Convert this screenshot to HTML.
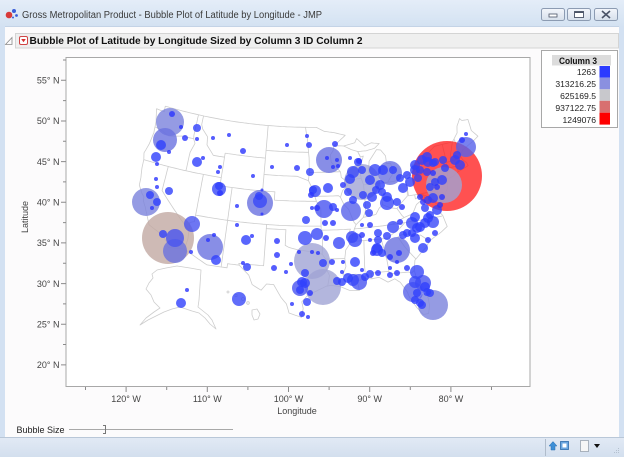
<!DOCTYPE html>
<html><head><meta charset="utf-8">
<style>
html,body{margin:0;padding:0;width:624px;height:457px;overflow:hidden;background:#fff;}
svg{display:block;font-family:"Liberation Sans",sans-serif;}
</style></head><body>
<svg id="root" width="624" height="457" viewBox="0 0 624 457" xmlns="http://www.w3.org/2000/svg">
<defs>
<linearGradient id="tb" x1="0" y1="0" x2="0" y2="1"><stop offset="0" stop-color="#e4edf8"/><stop offset="1" stop-color="#d4e2f2"/></linearGradient>
<linearGradient id="bt" x1="0" y1="0" x2="0" y2="1"><stop offset="0" stop-color="#f3f6fb"/><stop offset="1" stop-color="#d6dfeb"/></linearGradient>
<linearGradient id="sb" x1="0" y1="0" x2="0" y2="1"><stop offset="0" stop-color="#e2eaf5"/><stop offset="1" stop-color="#d3dfee"/></linearGradient>
</defs>
<rect x="0" y="0" width="624" height="457" fill="#d3e1f2"/>
<rect x="0" y="0" width="624" height="26" fill="url(#tb)"/>
<rect x="5" y="26" width="614" height="411" fill="#fcfbfc"/>
<line x1="5" y1="26.5" x2="619" y2="26.5" stroke="#c4d3e6"/>
<circle cx="9" cy="15" r="3.3" fill="#d83a3a"/>
<circle cx="14" cy="11" r="2" fill="#3a5ed8"/>
<circle cx="16.5" cy="15.5" r="1.4" fill="#3a5ed8"/>
<circle cx="13" cy="17.5" r="1" fill="#3a5ed8"/>
<text x="22" y="18" font-size="10" fill="#3a3a3a" textLength="300" lengthAdjust="spacingAndGlyphs">Gross Metropolitan Product - Bubble Plot of Latitude by Longitude - JMP</text>
<rect x="541.5" y="8.5" width="23" height="12" rx="2" fill="url(#bt)" stroke="#8c9bb2"/>
<rect x="549" y="14" width="8" height="3" fill="#fff" stroke="#4a5366" stroke-width="0.8"/>
<rect x="567.5" y="8.5" width="23" height="12" rx="2" fill="url(#bt)" stroke="#8c9bb2"/>
<rect x="574.5" y="11.5" width="9" height="6" fill="#fff" stroke="#4a5366" stroke-width="0.9"/>
<line x1="574.5" y1="12.3" x2="583.5" y2="12.3" stroke="#4a5366" stroke-width="1.4"/>
<rect x="594.5" y="8.5" width="23" height="12" rx="2" fill="url(#bt)" stroke="#8c9bb2"/>
<path d="M602,11 L610,18 M610,11 L602,18" stroke="#4a5366" stroke-width="1.6"/>
<path d="M12,37.5 L12,44.5 L5.5,44.5 Z" fill="none" stroke="#8a8a8a" stroke-width="0.8"/>
<rect x="15.5" y="33.5" width="603" height="14.5" fill="#efefef" stroke="#d4d4d4"/>
<rect x="19.5" y="36.5" width="8" height="8" rx="1.5" fill="#fff" stroke="#d04545"/>
<path d="M21.2,39 L25.8,39 L23.5,42.3 Z" fill="#d83030"/>
<text x="29.5" y="44" font-size="10.5" font-weight="bold" fill="#111" textLength="333" lengthAdjust="spacingAndGlyphs">Bubble Plot of Latitude by Longitude Sized by Column 3 ID Column 2</text>
<rect x="66" y="57.5" width="464" height="329" fill="#fff" stroke="#a8a8a8"/>
<g stroke="#8a8a8a" stroke-width="1">
<path d="M61,80.3H66M61,121H66M61,161.6H66M61,202.3H66M61,242.9H66M61,283.6H66M61,324.2H66M61,364.9H66"/>
<path d="M63,60H66M63,100.6H66M63,141.3H66M63,181.9H66M63,222.6H66M63,263.2H66M63,303.9H66M63,344.5H66"/>
<path d="M126.1,387V392M207.3,387V392M288.5,387V392M369.7,387V392M450.9,387V392"/>
<path d="M85.5,387V390M166.7,387V390M247.9,387V390M329.1,387V390M410.3,387V390M491.5,387V390"/>
</g>
<g font-size="9" fill="#444" text-anchor="end">
<text x="59.5" y="83.5">55° N</text>
<text x="59.5" y="124.2">50° N</text>
<text x="59.5" y="164.8">45° N</text>
<text x="59.5" y="205.5">40° N</text>
<text x="59.5" y="246.1">35° N</text>
<text x="59.5" y="286.8">30° N</text>
<text x="59.5" y="327.4">25° N</text>
<text x="59.5" y="368.1">20° N</text>
</g>
<g font-size="9" fill="#444" text-anchor="middle">
<text x="126.1" y="402">120° W</text>
<text x="207.3" y="402">110° W</text>
<text x="288.5" y="402">100° W</text>
<text x="369.7" y="402">90° W</text>
<text x="450.9" y="402">80° W</text>
<text x="297" y="414">Longitude</text>
</g>
<text transform="translate(28,217) rotate(-90)" font-size="9" fill="#444" text-anchor="middle">Latitude</text>
<g id="map" fill="none" stroke="#cdcdcd" stroke-width="0.8" stroke-linejoin="round">
<path d="M157,270 L166,268 L177,266 L190,268 L201,270 L200,285 L199,300 L198,307 L203,311 L208,315 L212,320 L216,329 L210,324 L205,318 L199,313 L192,311 L186,309 L180,307 L172,309 L164,312 L156,316 L148,320 L140,325 L146,318 L154,312 L160,308 L154,302 L151,295 L146,289 L149,283 L153,278 L152,274 Z"/>
<circle cx="228" cy="292" r="1"/>
<circle cx="236" cy="295.5" r="1.2"/>
<circle cx="243" cy="299" r="1.5"/>
<circle cx="248" cy="303" r="1.3"/>
<path d="M252,310 L257,309 L260,314 L258,319 L254,320 L252,315 Z"/>
</g>
<g fill-opacity="0.8">
<circle cx="447" cy="176" r="35" fill="#ff1a1a" fill-opacity="0.76"/>
<circle cx="168" cy="238" r="26" fill="#c2a9a3"/>
<g fill="#a0a4d4">
<circle cx="362" cy="182" r="18"/><circle cx="312" cy="261" r="18"/><circle cx="323" cy="287" r="18"/><circle cx="444" cy="185" r="18"/>
</g>
<g fill="#7a82dc">
<circle cx="433" cy="305" r="15"/><circle cx="170" cy="122" r="14"/><circle cx="146" cy="202" r="14"/>
</g>
<g fill="#6a72e0">
<circle cx="260" cy="203" r="13"/><circle cx="329" cy="160" r="13"/><circle cx="210" cy="247" r="13"/><circle cx="397" cy="250" r="13"/>
<circle cx="165" cy="140" r="12"/><circle cx="175" cy="251" r="12"/><circle cx="390" cy="173" r="12"/>
</g>
<g fill="#5862ea">
<circle cx="466" cy="147" r="10"/><circle cx="351" cy="211" r="10"/><circle cx="413" cy="292" r="10"/>
</g>
<g fill="#4854f0">
<circle cx="324" cy="209" r="9"/><circle cx="175" cy="238" r="9"/>
<circle cx="192" cy="224" r="8"/><circle cx="423" cy="283" r="8"/><circle cx="359" cy="282" r="8"/><circle cx="300" cy="288" r="8"/>
</g>
<g fill="#3a48f8">
<circle cx="219" cy="189" r="7"/><circle cx="260" cy="201" r="7"/><circle cx="239" cy="299" r="7"/><circle cx="305" cy="238" r="7"/><circle cx="355" cy="240" r="7"/><circle cx="417" cy="272" r="7"/><circle cx="387" cy="203" r="7"/>
<circle cx="315" cy="191" r="6"/><circle cx="317" cy="234" r="6"/><circle cx="353" cy="172" r="6"/><circle cx="375" cy="170" r="6"/><circle cx="352" cy="237" r="6"/><circle cx="393" cy="227" r="6"/><circle cx="412" cy="223" r="6"/><circle cx="433" cy="222" r="6"/><circle cx="339" cy="243" r="6"/><circle cx="377" cy="250" r="6"/><circle cx="353" cy="280" r="6"/><circle cx="415" cy="282" r="6"/>
</g>
<g fill="#3040fc">
<circle cx="161" cy="145" r="5"/><circle cx="156" cy="157" r="5"/><circle cx="197" cy="162" r="5"/><circle cx="216" cy="260" r="5"/><circle cx="246" cy="240" r="5"/><circle cx="328" cy="188" r="5"/><circle cx="383" cy="170" r="5"/><circle cx="370" cy="180" r="5"/><circle cx="380" cy="185" r="5"/><circle cx="350" cy="179" r="5"/><circle cx="372" cy="197" r="5"/><circle cx="387" cy="197" r="5"/><circle cx="403" cy="188" r="5"/><circle cx="410" cy="182" r="5"/><circle cx="415" cy="165" r="5"/><circle cx="422" cy="160" r="5"/><circle cx="415" cy="170" r="5"/><circle cx="415" cy="217" r="5"/><circle cx="420" cy="227" r="5"/><circle cx="425" cy="223" r="5"/><circle cx="428" cy="218" r="5"/><circle cx="415" cy="238" r="5"/><circle cx="423" cy="248" r="5"/><circle cx="417" cy="228" r="5"/><circle cx="377" cy="248" r="5"/><circle cx="355" cy="262" r="5"/><circle cx="302" cy="282" r="5"/><circle cx="348" cy="278" r="5"/><circle cx="425" cy="287" r="5"/><circle cx="181" cy="303" r="5"/><circle cx="427" cy="157" r="5"/><circle cx="428" cy="162" r="5"/><circle cx="455" cy="160" r="5"/><circle cx="460" cy="165" r="5"/><circle cx="442" cy="180" r="5"/><circle cx="433" cy="198" r="5"/><circle cx="437" cy="210" r="5"/><circle cx="305" cy="283" r="5"/>
<circle cx="197" cy="128" r="4"/><circle cx="169" cy="191" r="4"/><circle cx="150" cy="195" r="4"/><circle cx="157" cy="202" r="4"/><circle cx="259" cy="196" r="4"/><circle cx="310" cy="172" r="4"/><circle cx="306" cy="220" r="4"/><circle cx="163" cy="234" r="4"/><circle cx="247" cy="267" r="4"/><circle cx="313" cy="190" r="4"/><circle cx="362" cy="170" r="4"/><circle cx="393" cy="170" r="4"/><circle cx="358" cy="162" r="4"/><circle cx="348" cy="192" r="4"/><circle cx="353" cy="200" r="4"/><circle cx="363" cy="195" r="4"/><circle cx="382" cy="192" r="4"/><circle cx="367" cy="205" r="4"/><circle cx="376" cy="190" r="4"/><circle cx="397" cy="202" r="4"/><circle cx="407" cy="175" r="4"/><circle cx="400" cy="178" r="4"/><circle cx="435" cy="162" r="4"/><circle cx="420" cy="170" r="4"/><circle cx="427" cy="172" r="4"/><circle cx="418" cy="178" r="4"/><circle cx="369" cy="213" r="4"/><circle cx="333" cy="207" r="4"/><circle cx="378" cy="233" r="4"/><circle cx="412" cy="233" r="4"/><circle cx="403" cy="235" r="4"/><circle cx="378" cy="240" r="4"/><circle cx="387" cy="236" r="4"/><circle cx="407" cy="233" r="4"/><circle cx="382" cy="253" r="4"/><circle cx="323" cy="263" r="4"/><circle cx="305" cy="273" r="4"/><circle cx="300" cy="290" r="4"/><circle cx="307" cy="302" r="4"/><circle cx="337" cy="281" r="4"/><circle cx="342" cy="282" r="4"/><circle cx="365" cy="277" r="4"/><circle cx="370" cy="274" r="4"/><circle cx="427" cy="292" r="4"/><circle cx="417" cy="293" r="4"/><circle cx="415" cy="300" r="4"/><circle cx="420" cy="303" r="4"/><circle cx="422" cy="305" r="4"/><circle cx="430" cy="293" r="4"/><circle cx="433" cy="163" r="4"/><circle cx="443" cy="160" r="4"/><circle cx="457" cy="155" r="4"/><circle cx="445" cy="168" r="4"/><circle cx="435" cy="182" r="4"/><circle cx="430" cy="187" r="4"/><circle cx="425" cy="208" r="4"/><circle cx="428" cy="200" r="4"/><circle cx="430" cy="215" r="4"/><circle cx="219" cy="186" r="4"/>
</g>
<g fill="#2a34fe">
<circle cx="172" cy="114" r="3"/><circle cx="185" cy="138" r="3"/><circle cx="243" cy="151" r="3"/><circle cx="220" cy="193" r="3"/><circle cx="309" cy="145" r="3"/><circle cx="297" cy="168" r="3"/><circle cx="311" cy="195" r="3"/><circle cx="317" cy="208" r="3"/><circle cx="335" cy="144" r="3"/><circle cx="359" cy="161" r="3"/><circle cx="343" cy="185" r="3"/><circle cx="402" cy="207" r="3"/><circle cx="370" cy="225" r="3"/><circle cx="333" cy="223" r="3"/><circle cx="325" cy="223" r="3"/><circle cx="362" cy="235" r="3"/><circle cx="400" cy="222" r="3"/><circle cx="428" cy="240" r="3"/><circle cx="435" cy="233" r="3"/><circle cx="390" cy="257" r="3"/><circle cx="399" cy="253" r="3"/><circle cx="373" cy="253" r="3"/><circle cx="332" cy="262" r="3"/><circle cx="310" cy="293" r="3"/><circle cx="302" cy="314" r="3"/><circle cx="277" cy="241" r="3"/><circle cx="277" cy="255" r="3"/><circle cx="274" cy="268" r="3"/><circle cx="326" cy="238" r="3"/><circle cx="378" cy="273" r="3"/><circle cx="390" cy="275" r="3"/><circle cx="397" cy="273" r="3"/><circle cx="407" cy="268" r="3"/><circle cx="462" cy="140" r="3"/><circle cx="433" cy="173" r="3"/><circle cx="437" cy="187" r="3"/><circle cx="420" cy="197" r="3"/><circle cx="423" cy="202" r="3"/><circle cx="442" cy="197" r="3"/><circle cx="440" cy="205" r="3"/>
<circle cx="181" cy="127" r="2"/><circle cx="197" cy="139" r="2"/><circle cx="169" cy="152" r="2"/><circle cx="157" cy="164" r="2"/><circle cx="213" cy="138" r="2"/><circle cx="229" cy="135" r="2"/><circle cx="203" cy="158" r="2"/><circle cx="220" cy="167" r="2"/><circle cx="218" cy="172" r="2"/><circle cx="156" cy="179" r="2"/><circle cx="157" cy="187" r="2"/><circle cx="152" cy="208" r="2"/><circle cx="253" cy="176" r="2"/><circle cx="237" cy="206" r="2"/><circle cx="287" cy="145" r="2"/><circle cx="307" cy="136" r="2"/><circle cx="272" cy="167" r="2"/><circle cx="312" cy="208" r="2"/><circle cx="208" cy="240" r="2"/><circle cx="214" cy="235" r="2"/><circle cx="191" cy="252" r="2"/><circle cx="237" cy="225" r="2"/><circle cx="252" cy="236" r="2"/><circle cx="243" cy="263" r="2"/><circle cx="286" cy="272" r="2"/><circle cx="291" cy="264" r="2"/><circle cx="299" cy="252" r="2"/><circle cx="312" cy="252" r="2"/><circle cx="318" cy="253" r="2"/><circle cx="292" cy="304" r="2"/><circle cx="308" cy="317" r="2"/><circle cx="187" cy="290" r="2"/><circle cx="327" cy="158" r="2"/><circle cx="337" cy="160" r="2"/><circle cx="333" cy="167" r="2"/><circle cx="338" cy="166" r="2"/><circle cx="350" cy="158" r="2"/><circle cx="337" cy="210" r="2"/><circle cx="362" cy="225" r="2"/><circle cx="370" cy="240" r="2"/><circle cx="343" cy="262" r="2"/><circle cx="342" cy="272" r="2"/><circle cx="362" cy="270" r="2"/><circle cx="390" cy="268" r="2"/><circle cx="397" cy="262" r="2"/><circle cx="466" cy="134" r="2"/>
<circle cx="262" cy="190" r="1.5"/><circle cx="262" cy="214" r="1.5"/>
</g>
</g>
<rect x="541.5" y="50.5" width="76" height="77" fill="#fff" stroke="#a8a8a8"/>
<rect x="552" y="55" width="59" height="10.5" fill="#dcdcdc"/>
<text x="559" y="64" font-size="9.5" font-weight="bold" fill="#111" textLength="38" lengthAdjust="spacingAndGlyphs">Column 3</text>
<rect x="599.5" y="66" width="10.5" height="11.6" fill="#2b3bff"/>
<rect x="599.5" y="77.6" width="10.5" height="11.7" fill="#8a90e0"/>
<rect x="599.5" y="89.3" width="10.5" height="11.5" fill="#c8c8cc"/>
<rect x="599.5" y="100.8" width="10.5" height="11.9" fill="#d87070"/>
<rect x="599.5" y="112.7" width="10.5" height="11.9" fill="#ff0000"/>
<g font-size="8.6" fill="#222" text-anchor="end">
<text x="596" y="74.8">1263</text>
<text x="596" y="86.8">313216.25</text>
<text x="596" y="98.8">625169.5</text>
<text x="596" y="110.8">937122.75</text>
<text x="596" y="122.8">1249076</text>
</g>
<text x="16.5" y="433" font-size="9" fill="#222">Bubble Size</text>
<line x1="69" y1="429.5" x2="233" y2="429.5" stroke="#a8a8a8" stroke-width="1"/>
<path d="M103,425.5 H105.5 V433.5 H103" fill="none" stroke="#777" stroke-width="1"/>
<rect x="0" y="437" width="624" height="20" fill="url(#sb)"/>
<line x1="0" y1="437.5" x2="624" y2="437.5" stroke="#b9c7d8"/>
<line x1="545.5" y1="439" x2="545.5" y2="456" stroke="#b0bccb"/>
<path d="M549,446 L553,441.5 L557,446 L555,446 L555,450 L551,450 L551,446 Z" fill="#3e8fd6" stroke="#2a6fb2" stroke-width="0.5"/>
<rect x="560.5" y="441.5" width="8" height="8" fill="#6aa6e0" stroke="#2c6aaa" stroke-width="0.8"/>
<rect x="562.5" y="443.5" width="4" height="4" fill="#fff"/>
<rect x="580.5" y="440.5" width="8" height="11" fill="#f6f6f6" stroke="#9aa4b0" stroke-width="0.8"/>
<path d="M594,444 L600,444 L597,448 Z" fill="#111"/>
<g fill="#b4c0ce"><rect x="614" y="452" width="1" height="1"/><rect x="616" y="450" width="1" height="1"/><rect x="616" y="452" width="1" height="1"/><rect x="618" y="448" width="1" height="1"/><rect x="618" y="450" width="1" height="1"/><rect x="618" y="452" width="1" height="1"/></g>
</svg>
<script>
(function(){
var D=Math.PI/180,p1=29.5*D,p2=45.5*D,n=(Math.sin(p1)+Math.sin(p2))/2,C=Math.cos(p1)*Math.cos(p1)+2*n*Math.sin(p1),r0=Math.sqrt(C-2*n*Math.sin(37.5*D))/n;
function P(lo,la){var r=Math.sqrt(C-2*n*Math.sin(la*D))/n,t=n*(lo+96)*D;return [312+470*r*Math.sin(t),222-470*(r0-r*Math.cos(t))];}
var L=[
[-124.7,48.4,-124.1,46.9,-124.0,46.2,-123.9,45.5,-124.1,44.0,-124.5,42.8,-124.2,42.0,-124.1,41.0,-123.8,39.8,-123.7,38.9,-122.9,38.0,-122.5,37.7,-122.4,37.2,-121.9,36.6,-121.3,35.7,-120.6,34.6,-119.2,34.1,-118.4,33.8,-117.3,33.0,-117.1,32.5,-114.7,32.7,-111.1,31.3,-108.2,31.3,-108.2,31.8,-106.5,31.8,-105.0,30.7,-104.4,29.6,-103.1,29.0,-102.4,29.8,-101.4,29.8,-100.3,28.3,-99.5,27.5,-99.1,26.4,-97.4,25.9,-97.2,27.0,-97.4,27.8,-96.6,28.6,-95.0,29.3,-94.0,29.7,-93.3,29.8,-92.0,29.6,-90.8,29.1,-89.4,29.0,-89.6,30.2,-88.4,30.4,-87.5,30.3,-86.5,30.4,-85.3,29.7,-84.3,30.0,-83.6,29.5,-82.8,28.2,-82.6,27.5,-81.8,26.1,-81.1,25.2,-80.4,25.2,-80.1,26.2,-80.1,27.0,-80.6,28.5,-81.3,29.9,-81.4,30.7,-81.1,31.9,-80.0,32.7,-79.2,33.2,-78.5,33.9,-77.8,34.2,-76.5,34.7,-75.5,35.2,-75.8,36.6,-76.1,37.0,-75.9,37.6,-75.1,38.3,-75.1,38.8,-74.9,38.9,-74.1,39.7,-74.0,40.5,-73.9,40.8,-72.9,40.9,-71.9,41.3,-71.0,41.5,-70.0,41.7,-70.1,42.1,-70.6,42.6,-70.8,43.1,-70.2,43.7,-69.0,44.1,-68.0,44.4,-67.0,44.8,-67.8,45.7,-67.8,47.1,-68.9,47.2,-69.2,47.5,-70.0,46.7,-70.3,45.9,-71.5,45.0,-74.7,45.0,-76.3,44.2,-76.9,43.4,-79.1,43.3,-79.0,42.9,-78.9,42.6,-80.5,42.1,-82.4,41.7,-83.5,41.7,-86.8,41.7,-87.5,41.7,-87.8,42.5,-87.9,43.4,-87.6,44.3,-87.1,45.2,-87.6,45.1,-88.0,45.8,-86.5,45.8,-85.0,46.0,-84.1,46.5,-85.5,46.7,-86.7,46.4,-88.0,47.4,-88.4,46.9,-90.4,46.6,-92.1,46.7,-90.0,47.9,-92.0,48.3,-93.8,48.5,-95.2,49.0,-123.3,49.0,-123.2,48.3,-124.7,48.4],
[-86.8,41.7,-84.8,41.7,-83.5,41.7,-83.1,42.1,-82.5,42.6,-82.4,43.0,-82.6,43.9,-83.3,44.0,-83.3,44.9,-84.0,45.7,-84.7,45.8,-85.4,45.2,-86.2,44.5,-86.5,43.2,-86.2,42.5,-86.8,41.7],
[-124.0,46.2,-123.0,46.1,-121.2,45.6,-119.0,46.0,-116.9,46.0],
[-117.0,49.0,-117.0,46.4,-116.9,46.0],
[-116.9,46.0,-116.5,45.5,-117.0,44.3,-117.0,42.0],
[-124.2,42.0,-111.05,42.0],
[-111.05,44.5,-111.05,41.0,-109.05,41.0],
[-109.05,41.0,-102.05,41.0,-102.05,40.0,-95.3,40.0],
[-120.0,42.0,-120.0,39.0,-114.6,35.0],
[-114.6,35.0,-114.7,36.0,-114.05,36.2,-114.05,37.0],
[-114.6,35.0,-114.5,34.0,-114.7,32.7],
[-114.05,42.0,-114.05,37.0],
[-114.05,37.0,-94.6,37.0],
[-109.05,41.0,-109.05,31.3],
[-103.0,37.0,-103.0,32.0,-106.6,32.0,-106.5,31.8],
[-103.0,36.5,-100.0,36.5,-100.0,34.6,-99.5,34.4,-98.0,34.1,-96.0,33.9,-94.5,33.6,-94.0,33.0,-94.0,31.9,-93.5,31.0,-93.8,29.7],
[-116.05,49.0,-116.05,47.9,-115.7,47.4,-114.6,46.6,-114.4,45.6,-113.0,44.5,-111.05,44.5,-111.05,45.0],
[-111.05,45.0,-104.05,45.0],
[-104.05,49.0,-104.05,41.0],
[-104.05,45.94,-96.6,45.94],
[-104.05,43.0,-98.5,43.0,-96.6,42.5],
[-97.2,49.0,-96.8,47.5,-96.6,45.9,-96.5,45.3,-96.45,43.5,-91.2,43.5],
[-96.45,43.5,-96.6,42.5,-95.9,41.5,-95.3,40.0,-94.6,39.1,-94.6,36.5],
[-95.8,40.6,-91.7,40.6,-91.4,40.4],
[-92.1,46.7,-92.3,46.1,-92.8,45.6,-92.7,44.7,-91.2,43.5],
[-91.2,43.5,-91.1,42.8,-90.6,42.5,-90.2,41.8,-91.0,41.2,-91.4,40.4,-90.9,39.5,-90.2,38.9,-89.5,37.3,-89.2,37.0,-89.5,36.5,-89.7,36.0,-90.1,35.0,-91.0,34.0,-91.2,33.0,-91.1,32.0,-91.6,31.0,-89.7,31.0,-89.6,30.2],
[-94.6,36.5,-90.1,36.5,-90.4,36.0,-89.7,36.0],
[-89.5,36.5,-81.7,36.6,-75.9,36.55],
[-90.6,42.5,-87.8,42.5],
[-87.6,45.1,-88.0,45.8,-89.1,46.1,-90.4,46.6],
[-87.5,41.7,-87.5,39.0,-87.6,38.5,-88.0,37.8],
[-89.2,37.0,-88.0,37.8,-87.0,37.9,-86.0,38.0,-85.4,38.7,-84.8,39.1,-83.6,38.6,-82.6,38.4,-81.8,39.0,-80.7,39.7,-80.5,40.6],
[-82.6,38.4,-82.0,37.5,-81.7,37.2,-83.7,36.6],
[-84.8,41.7,-84.8,39.1],
[-80.5,42.0,-80.5,39.7],
[-80.5,39.7,-75.8,39.7],
[-79.8,42.5,-79.8,42.0,-75.4,42.0,-74.7,41.4,-75.1,40.8,-75.5,39.8,-75.8,39.7],
[-74.7,41.4,-74.0,41.0],
[-75.8,39.7,-75.8,38.5,-75.1,38.5],
[-78.3,39.6,-78.0,39.2,-79.5,38.5,-80.3,37.5,-81.7,37.2],
[-79.5,39.7,-79.5,39.2,-78.3,39.6,-77.5,39.2,-77.0,38.9,-76.3,38.0],
[-83.1,35.0,-82.4,35.2,-81.0,35.1,-80.8,34.8,-79.7,34.8,-78.5,33.9],
[-81.7,36.6,-82.6,36.0,-84.3,35.2,-84.3,35.0],
[-84.3,35.0,-90.3,35.0],
[-83.1,35.0,-82.2,33.6,-81.4,32.6,-80.9,32.0],
[-85.6,35.0,-85.1,32.4,-85.0,31.0],
[-87.6,31.0,-85.0,31.0,-84.9,30.7,-82.2,30.6,-81.9,30.4,-81.4,30.7],
[-88.2,35.0,-88.4,32.0,-88.4,30.4],
[-87.6,31.0,-87.5,30.3],
[-94.0,33.0,-91.2,33.0],
[-94.5,33.6,-94.4,35.4,-94.6,36.5],
[-73.3,45.0,-73.3,42.7,-73.5,42.0,-73.7,41.1],
[-71.5,45.0,-72.5,43.3,-72.5,42.7],
[-73.3,42.75,-71.0,42.85,-70.8,42.9],
[-71.1,45.3,-70.7,43.1],
[-73.5,42.05,-71.4,42.0,-71.2,41.5],
[-71.8,42.0,-71.8,41.3]
];
var NS="http://www.w3.org/2000/svg",g=document.getElementById('map');
L.forEach(function(a){
var pts=[];
for(var i=0;i+3<a.length;i+=2){
var lo0=a[i],la0=a[i+1],lo1=a[i+2],la1=a[i+3];
var k=Math.max(1,Math.ceil(Math.max(Math.abs(lo1-lo0),Math.abs(la1-la0))/0.5));
for(var j=0;j<k;j++){pts.push(P(lo0+(lo1-lo0)*j/k,la0+(la1-la0)*j/k));}
}
pts.push(P(a[a.length-2],a[a.length-1]));
var d='M'+pts.map(function(p){return p[0].toFixed(1)+','+p[1].toFixed(1);}).join('L');
var e=document.createElementNS(NS,'path');e.setAttribute('d',d);g.appendChild(e);
});
})();
</script>
</body></html>
